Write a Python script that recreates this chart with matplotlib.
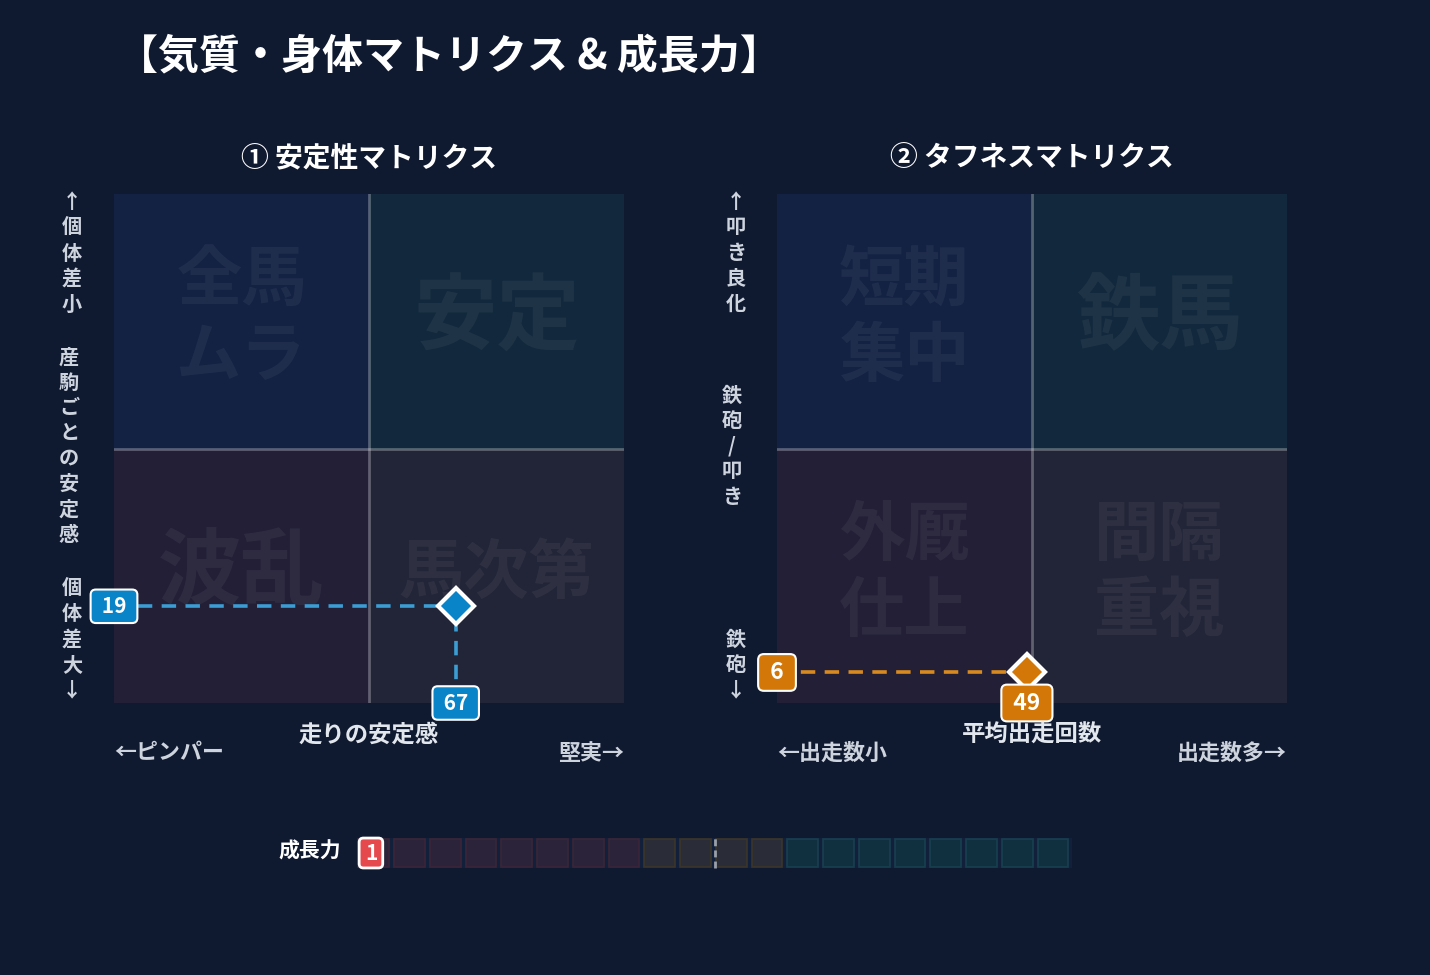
import matplotlib.pyplot as plt
from matplotlib.patches import Rectangle, FancyBboxPatch

plt.rcParams['font.family'] = ['Noto Sans CJK JP', 'DejaVu Sans']

# ---- data ----
title = '【気質・身体マトリクス & 成長力】'
panel_titles = ['① 安定性マトリクス', '② タフネスマトリクス']
# quadrant watermarks: top-left, top-right, bottom-left, bottom-right
quad_words = [
    ['全馬\nムラ', '安定', '波乱', '馬次第'],
    ['短期\n集中', '鉄馬', '外厩\n仕上', '間隔\n重視'],
]
x_titles = ['走りの安定感', '平均出走回数']
x_low_labels = ['←ピンパー', '←出走数小']
x_high_labels = ['堅実→', '出走数多→']
y_top_labels = ['↑個体差小', '↑叩き良化']
y_mid_labels = ['産駒ごとの安定感', '鉄砲/叩き']
y_bottom_labels = ['個体差大↓', '鉄砲↓']
x_values = [67, 49]
y_values = [19, 6]

growth_label = '成長力'
growth_value = 1
growth_band_sizes = [8, 4, 8]   # low / neutral / high cells

# ---- style ----
BG = '#0f1930'
W, H = 1430, 975
QUAD_COLORS = ['#132143', '#12283c', '#221f37', '#222537']
POINT_COLORS = ['#0a84c8', '#d27708']
LINE_COLORS = ['#3a9dd4', '#d98a1e']
BOX_FONT = [15, 16.5]
BAND_FILL = ['#2a2339', '#2a2d37', '#11303f']
BAND_EDGE = ['#3b2538', '#3b3529', '#17404f']
LABEL_COLOR = '#cdd4de'

fig = plt.figure(figsize=(W / 100, H / 100), dpi=100, facecolor=BG)


def fx(x):
    return x / W


def fy(y):
    return 1 - y / H


def px_axes(x0, y0, x1, y1):
    ax = fig.add_axes([fx(x0), fy(y1), (x1 - x0) / W, (y1 - y0) / H])
    ax.set_facecolor(BG)
    ax.axis('off')
    return ax


def stacked(x, y0, step, text, **kw):
    for i, ch in enumerate(text):
        fig.text(fx(x), fy(y0 + i * step), ch, ha='center', va='center',
                 color=LABEL_COLOR, fontsize=14.5, fontweight='bold', **kw)


fig.text(fx(117), fy(56), title, ha='left', va='center', color='white',
         fontsize=29.5, fontweight='bold')

panels = [(114, 194, 624, 703), (777, 194, 1287, 703)]
y_label_x = [(72, 69, 72), (736, 732, 736)]
y_label_y = [(202, 357, 588), (201, 395, 639)]

for k, (x0, y0, x1, y1) in enumerate(panels):
    ax = px_axes(x0, y0, x1, y1)
    ax.set_xlim(0, 100)
    ax.set_ylim(0, 100)

    corners = [(0, 50), (50, 50), (0, 0), (50, 0)]
    for (cx, cy), col, word in zip(corners, QUAD_COLORS, quad_words[k]):
        ax.add_patch(Rectangle((cx, cy), 50, 50, fc=col, ec='none', zorder=0))
        size = 60 if ('\n' not in word and len(word) <= 2) else 47
        ax.text(cx + 25, cy + 25.5, word, ha='center', va='center', color='white',
                alpha=0.055, fontsize=size, fontweight='bold', linespacing=1.17,
                zorder=1)
    ax.axvline(50, color='white', alpha=0.28, lw=2, zorder=2)
    ax.axhline(50, color='white', alpha=0.28, lw=2, zorder=2)

    xv, yv, c = x_values[k], y_values[k], POINT_COLORS[k]
    lc = LINE_COLORS[k]
    ax.plot([0, xv], [yv, yv], color=lc, lw=2.6, ls=(0, (4, 2.6)), zorder=3)
    ax.plot([xv, xv], [0, yv], color=lc, lw=2.6, ls=(0, (4, 2.6)), zorder=3)
    ax.plot(xv, yv, marker='D', ms=18, mfc=c, mec='white', mew=3, zorder=5,
            clip_on=False)
    box = dict(boxstyle='round,pad=0.3,rounding_size=0.25', fc=c, ec='white', lw=1.5)
    ax.text(0, yv, f' {yv} ', ha='center', va='center', color='white',
            fontsize=BOX_FONT[k], fontweight='bold', bbox=box, zorder=6,
            clip_on=False)
    ax.text(xv, 0, f' {xv} ', ha='center', va='center', color='white',
            fontsize=BOX_FONT[k], fontweight='bold', bbox=box, zorder=6,
            clip_on=False)

    mid = (x0 + x1) / 2
    fig.text(fx(mid), fy(158), panel_titles[k], ha='center', va='center',
             color='white', fontsize=20, fontweight='bold')
    fig.text(fx(mid), fy(735), x_titles[k], ha='center', va='center',
             color='#e2e7ee', fontsize=16.8, fontweight='bold')
    fig.text(fx(x0), fy(753), x_low_labels[k], ha='left', va='center',
             color=LABEL_COLOR, fontsize=15.8, fontweight='bold')
    fig.text(fx(x1), fy(753), x_high_labels[k], ha='right', va='center',
             color=LABEL_COLOR, fontsize=15.8, fontweight='bold')

    lx, ly = y_label_x[k], y_label_y[k]
    stacked(lx[0], ly[0], 25.5, y_top_labels[k])
    stacked(lx[1], ly[1], 25.3, y_mid_labels[k])
    stacked(lx[2], ly[2], 25.5, y_bottom_labels[k])

# ---- growth bar ----
n_cells = sum(growth_band_sizes)
gx = px_axes(357, 836, 1072, 870)
gx.set_xlim(0, n_cells)
gx.set_ylim(0, 1)
gx.add_patch(Rectangle((0, 0.06), n_cells, 0.88, fc='#13203b', ec='none', zorder=0))
i = 0
for band, count in enumerate(growth_band_sizes):
    for _ in range(count):
        gx.add_patch(Rectangle((i + 0.04, 0.1), 0.86, 0.8, fc=BAND_FILL[band],
                               ec=BAND_EDGE[band], lw=1.2, zorder=1))
        i += 1
gx.plot([n_cells / 2, n_cells / 2], [0.06, 0.94], color='#9aa0aa', lw=2,
        ls=(0, (2.5, 1.5)), zorder=2)
v = growth_value - 1
gx.add_patch(FancyBboxPatch((v + 0.06, 0.06), 0.66, 0.88,
                            boxstyle='round,pad=0,rounding_size=0.12',
                            fc='#e5484d', ec='white', lw=2, zorder=3,
                            mutation_aspect=1.05))
gx.text(v + 0.39, 0.5, str(growth_value), ha='center', va='center', color='white',
        fontsize=15, fontweight='bold', zorder=4)

fig.text(fx(310), fy(851), growth_label, ha='center', va='center', color='white',
         fontsize=15, fontweight='bold')

fig.savefig('out.png', dpi=100, facecolor=BG)
